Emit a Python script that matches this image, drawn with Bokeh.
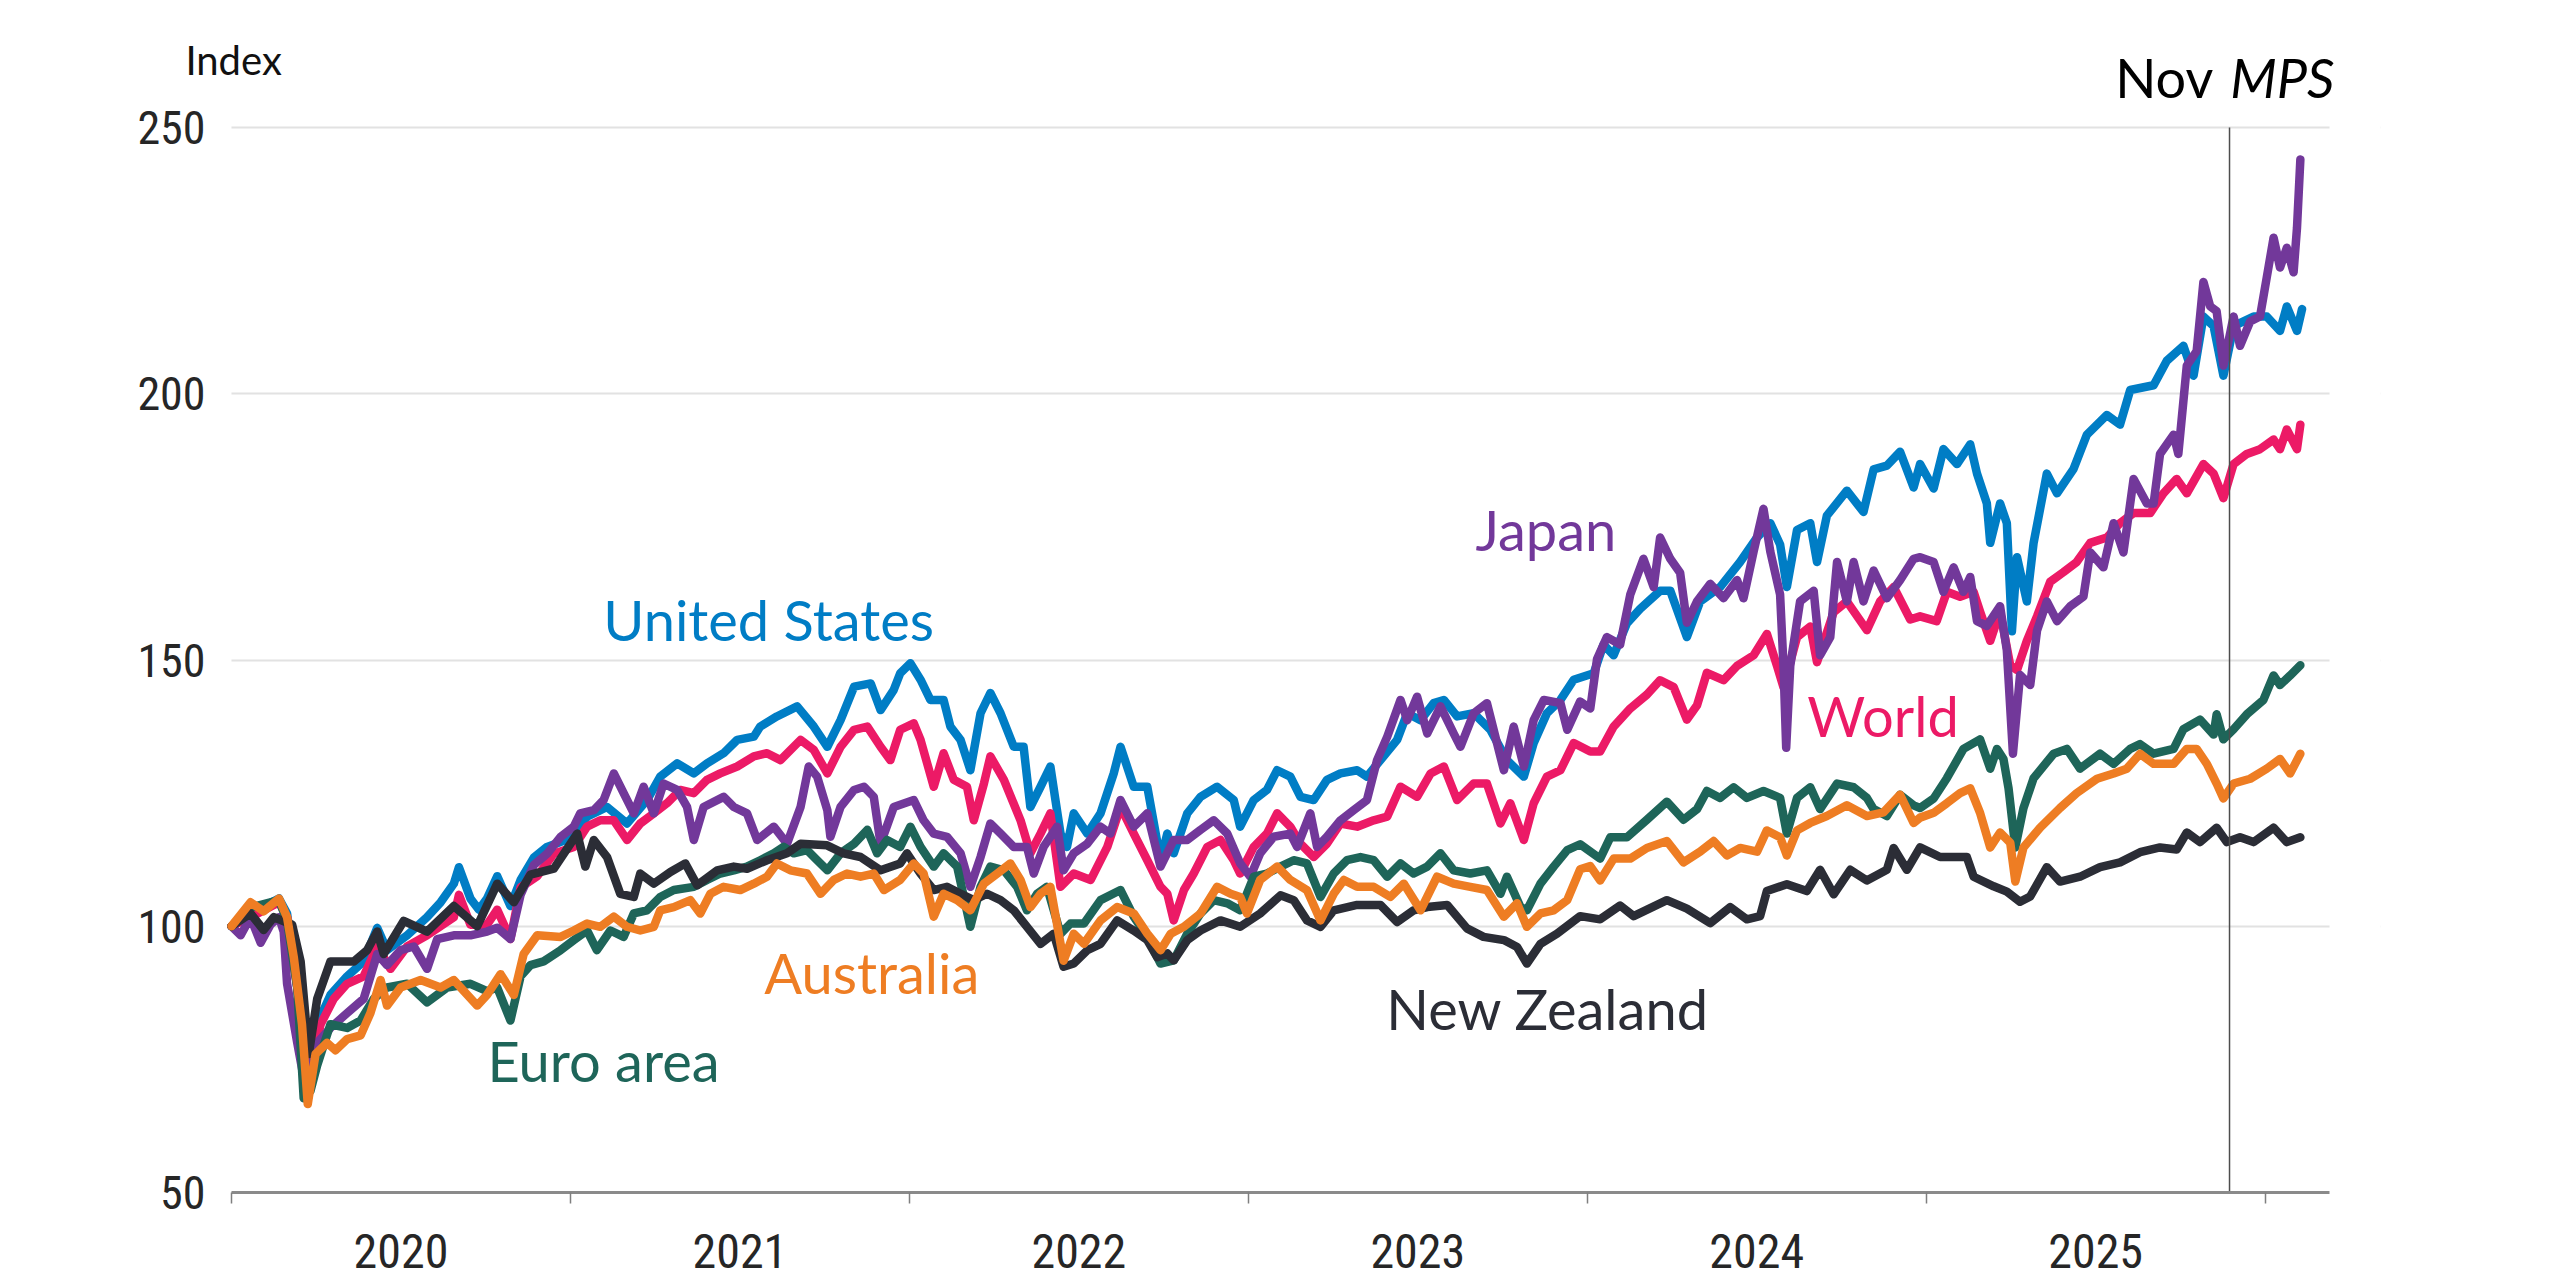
from bokeh.plotting import figure
from bokeh.models import Range1d, FixedTicker, Label, PrintfTickFormatter, BoxAnnotation
from bokeh.embed import file_html
from bokeh.resources import INLINE

# ---------------- data (decimal year, index value; Jan 2020 = 100) ----------------
united_states = [
    (2020.000, 100.0), (2020.056, 102.4), (2020.140, 105.2), (2020.164, 102.4), (2020.194, 88.5),
    (2020.223, 73.0), (2020.253, 81.6), (2020.292, 87.1), (2020.341, 90.6), (2020.390, 93.4),
    (2020.430, 99.7), (2020.459, 95.5), (2020.518, 98.3), (2020.577, 101.7), (2020.617, 104.5),
    (2020.656, 108.0), (2020.671, 111.1), (2020.705, 105.2), (2020.730, 103.1), (2020.754, 105.2),
    (2020.784, 109.4), (2020.823, 103.8), (2020.853, 108.7), (2020.892, 112.9), (2020.931, 114.9),
    (2020.961, 115.6), (2021.010, 116.8), (2021.049, 120.6), (2021.108, 122.4), (2021.167, 119.3),
    (2021.226, 123.7), (2021.265, 128.1), (2021.315, 130.6), (2021.364, 128.7), (2021.403, 130.6),
    (2021.452, 132.5), (2021.492, 135.0), (2021.541, 135.6), (2021.560, 137.5), (2021.609, 139.4),
    (2021.669, 141.3), (2021.718, 137.5), (2021.758, 133.7), (2021.797, 138.7), (2021.837, 145.0),
    (2021.886, 145.6), (2021.915, 140.6), (2021.954, 144.4), (2021.973, 147.5), (2022.003, 149.4),
    (2022.033, 146.3), (2022.062, 142.5), (2022.101, 142.5), (2022.121, 137.5), (2022.151, 135.0),
    (2022.180, 129.3), (2022.210, 140.0), (2022.239, 143.8), (2022.269, 140.0), (2022.308, 133.7),
    (2022.337, 133.7), (2022.357, 122.4), (2022.387, 126.2), (2022.416, 130.0), (2022.446, 117.4),
    (2022.465, 114.9), (2022.485, 121.2), (2022.525, 117.4), (2022.564, 121.2), (2022.603, 128.7),
    (2022.623, 133.7), (2022.662, 126.2), (2022.702, 126.2), (2022.741, 112.4), (2022.761, 117.4),
    (2022.780, 113.7), (2022.820, 121.2), (2022.859, 124.3), (2022.908, 126.2), (2022.957, 123.7),
    (2022.976, 118.7), (2023.016, 123.7), (2023.055, 125.6), (2023.085, 129.3), (2023.124, 128.1),
    (2023.154, 124.3), (2023.193, 123.7), (2023.232, 127.5), (2023.272, 128.7), (2023.321, 129.3),
    (2023.350, 128.1), (2023.390, 131.2), (2023.439, 135.0), (2023.469, 140.0), (2023.508, 138.7),
    (2023.547, 141.9), (2023.577, 142.5), (2023.616, 139.4), (2023.665, 140.0), (2023.714, 136.9),
    (2023.763, 131.2), (2023.813, 128.1), (2023.842, 134.4), (2023.881, 140.0), (2023.921, 142.5),
    (2023.960, 146.3), (2024.019, 147.5), (2024.048, 152.9), (2024.078, 150.9), (2024.117, 156.9),
    (2024.156, 159.6), (2024.215, 163.0), (2024.245, 163.0), (2024.294, 154.3), (2024.333, 161.0),
    (2024.392, 163.7), (2024.451, 168.4), (2024.501, 173.0), (2024.540, 175.7), (2024.569, 171.7),
    (2024.589, 163.7), (2024.619, 174.4), (2024.658, 175.7), (2024.678, 168.4), (2024.707, 177.1),
    (2024.766, 181.8), (2024.815, 177.8), (2024.845, 185.8), (2024.884, 186.5), (2024.923, 189.1),
    (2024.963, 182.4), (2024.982, 186.8), (2025.022, 182.2), (2025.051, 189.6), (2025.091, 186.8),
    (2025.130, 190.5), (2025.150, 185.0), (2025.179, 179.4), (2025.189, 172.0), (2025.218, 179.4),
    (2025.238, 175.7), (2025.253, 155.4), (2025.268, 169.3), (2025.297, 161.0), (2025.317, 172.0),
    (2025.356, 185.0), (2025.386, 181.3), (2025.435, 185.9), (2025.474, 192.3), (2025.533, 196.0),
    (2025.572, 194.2), (2025.602, 200.7), (2025.671, 201.6), (2025.710, 206.2), (2025.759, 209.0),
    (2025.789, 203.4), (2025.818, 214.5), (2025.848, 212.7), (2025.877, 203.4), (2025.907, 212.7),
    (2025.966, 214.5), (2026.005, 214.5), (2026.044, 211.8), (2026.064, 216.4), (2026.094, 211.8),
    (2026.109, 215.9),
]

world = [
    (2020.000, 100.0), (2020.056, 101.7), (2020.140, 104.5), (2020.164, 101.7), (2020.194, 88.5),
    (2020.225, 71.0), (2020.263, 81.6), (2020.302, 86.4), (2020.341, 89.2), (2020.390, 90.6),
    (2020.430, 96.2), (2020.469, 92.0), (2020.518, 96.2), (2020.577, 98.3), (2020.656, 101.7),
    (2020.671, 105.9), (2020.705, 100.3), (2020.754, 100.3), (2020.784, 103.1), (2020.823, 97.6),
    (2020.853, 107.3), (2020.902, 109.4), (2020.951, 113.6), (2021.010, 114.9), (2021.049, 118.7),
    (2021.088, 119.9), (2021.128, 119.9), (2021.167, 116.2), (2021.206, 119.3), (2021.246, 121.2),
    (2021.285, 123.1), (2021.324, 125.6), (2021.364, 125.0), (2021.403, 127.5), (2021.442, 128.7),
    (2021.492, 130.0), (2021.541, 131.9), (2021.580, 132.5), (2021.620, 131.2), (2021.679, 135.0),
    (2021.718, 133.1), (2021.758, 128.7), (2021.797, 133.7), (2021.837, 136.9), (2021.876, 137.5),
    (2021.915, 133.7), (2021.944, 131.2), (2021.973, 136.9), (2022.013, 138.1), (2022.033, 135.0),
    (2022.072, 126.2), (2022.101, 132.5), (2022.131, 127.5), (2022.170, 126.2), (2022.190, 119.9),
    (2022.220, 126.8), (2022.239, 131.9), (2022.279, 127.5), (2022.328, 119.9), (2022.357, 113.7),
    (2022.387, 117.4), (2022.416, 121.2), (2022.446, 107.4), (2022.485, 109.9), (2022.535, 108.7),
    (2022.584, 114.9), (2022.623, 122.4), (2022.662, 117.4), (2022.702, 112.4), (2022.741, 107.4),
    (2022.761, 106.1), (2022.780, 101.1), (2022.810, 106.8), (2022.839, 109.9), (2022.879, 114.9),
    (2022.918, 116.2), (2022.957, 112.4), (2022.976, 109.9), (2023.016, 114.9), (2023.055, 117.4),
    (2023.085, 121.2), (2023.124, 118.7), (2023.154, 115.5), (2023.193, 113.0), (2023.232, 115.5),
    (2023.272, 119.3), (2023.321, 118.7), (2023.370, 119.9), (2023.410, 120.6), (2023.449, 126.2),
    (2023.498, 124.3), (2023.538, 128.7), (2023.577, 130.0), (2023.616, 123.7), (2023.665, 126.8),
    (2023.704, 126.8), (2023.744, 119.3), (2023.773, 123.1), (2023.813, 116.2), (2023.842, 123.1),
    (2023.881, 128.1), (2023.921, 129.3), (2023.960, 134.4), (2024.009, 132.8), (2024.038, 132.8),
    (2024.078, 137.5), (2024.127, 140.9), (2024.176, 143.5), (2024.215, 146.2), (2024.255, 144.9),
    (2024.294, 138.8), (2024.324, 141.5), (2024.353, 147.6), (2024.402, 146.2), (2024.442, 148.9),
    (2024.491, 150.9), (2024.530, 154.9), (2024.560, 148.9), (2024.579, 144.9), (2024.619, 154.3),
    (2024.658, 156.3), (2024.678, 149.6), (2024.727, 159.0), (2024.766, 161.0), (2024.825, 155.6),
    (2024.864, 161.0), (2024.904, 163.7), (2024.953, 157.6), (2024.982, 158.2), (2025.031, 157.3),
    (2025.061, 162.8), (2025.100, 161.9), (2025.140, 162.8), (2025.159, 159.1), (2025.189, 153.6),
    (2025.218, 159.1), (2025.248, 149.0), (2025.268, 148.1), (2025.297, 153.6), (2025.327, 158.2),
    (2025.366, 164.7), (2025.405, 166.5), (2025.444, 168.4), (2025.484, 172.0), (2025.533, 173.0),
    (2025.572, 175.7), (2025.612, 177.6), (2025.661, 177.6), (2025.700, 181.3), (2025.739, 184.0),
    (2025.769, 181.3), (2025.818, 186.8), (2025.848, 185.0), (2025.877, 180.4), (2025.907, 186.8),
    (2025.946, 188.7), (2025.985, 189.6), (2026.025, 191.4), (2026.044, 189.6), (2026.064, 193.3),
    (2026.094, 189.6), (2026.104, 194.2),
]

japan = [
    (2020.000, 100.0), (2020.027, 98.3), (2020.056, 101.7), (2020.086, 96.9), (2020.115, 100.3),
    (2020.140, 101.7), (2020.154, 99.0), (2020.164, 89.2), (2020.194, 78.1), (2020.218, 69.8),
    (2020.253, 78.1), (2020.292, 80.9), (2020.341, 83.7), (2020.390, 86.4), (2020.430, 94.8),
    (2020.459, 92.7), (2020.499, 95.5), (2020.538, 96.2), (2020.577, 92.0), (2020.607, 97.6),
    (2020.656, 98.3), (2020.705, 98.3), (2020.754, 99.0), (2020.784, 99.7), (2020.823, 97.6),
    (2020.853, 105.9), (2020.892, 111.5), (2020.931, 113.6), (2020.971, 116.8), (2021.010, 118.7),
    (2021.029, 121.2), (2021.069, 121.8), (2021.098, 123.7), (2021.128, 128.7), (2021.157, 125.0),
    (2021.187, 121.2), (2021.216, 126.2), (2021.246, 121.2), (2021.275, 126.8), (2021.315, 125.6),
    (2021.344, 122.4), (2021.364, 116.2), (2021.393, 122.4), (2021.452, 124.3), (2021.482, 122.4),
    (2021.521, 121.2), (2021.551, 116.2), (2021.600, 118.7), (2021.639, 115.5), (2021.679, 122.4),
    (2021.703, 130.0), (2021.728, 128.1), (2021.758, 121.8), (2021.767, 116.8), (2021.797, 122.4),
    (2021.837, 125.6), (2021.866, 126.2), (2021.895, 124.3), (2021.915, 115.5), (2021.954, 122.4),
    (2022.013, 123.7), (2022.042, 119.9), (2022.072, 117.4), (2022.111, 116.8), (2022.151, 113.7),
    (2022.180, 107.4), (2022.210, 113.0), (2022.239, 119.3), (2022.269, 117.4), (2022.308, 114.9),
    (2022.347, 114.9), (2022.367, 109.9), (2022.396, 114.9), (2022.436, 118.7), (2022.455, 110.5),
    (2022.485, 113.7), (2022.525, 115.5), (2022.564, 118.7), (2022.593, 117.4), (2022.623, 123.7),
    (2022.662, 118.7), (2022.702, 121.2), (2022.741, 111.2), (2022.780, 116.2), (2022.820, 116.2),
    (2022.859, 118.1), (2022.898, 119.9), (2022.938, 117.4), (2022.976, 111.8), (2023.006, 109.3),
    (2023.035, 113.7), (2023.075, 116.8), (2023.124, 117.4), (2023.144, 114.9), (2023.183, 121.2),
    (2023.203, 114.9), (2023.232, 116.8), (2023.272, 119.9), (2023.311, 121.8), (2023.350, 123.7),
    (2023.380, 131.2), (2023.410, 135.6), (2023.449, 142.5), (2023.469, 138.7), (2023.498, 143.1),
    (2023.528, 136.2), (2023.567, 141.3), (2023.606, 136.2), (2023.626, 133.7), (2023.665, 140.0),
    (2023.704, 141.9), (2023.754, 129.3), (2023.783, 137.5), (2023.813, 130.0), (2023.842, 138.7),
    (2023.872, 142.5), (2023.921, 141.9), (2023.941, 136.9), (2023.979, 142.2), (2024.009, 140.9),
    (2024.029, 150.2), (2024.058, 154.3), (2024.097, 152.9), (2024.127, 162.3), (2024.166, 169.0),
    (2024.196, 163.7), (2024.215, 173.0), (2024.245, 169.0), (2024.274, 166.4), (2024.294, 157.0),
    (2024.324, 161.0), (2024.363, 164.3), (2024.402, 161.6), (2024.442, 165.0), (2024.461, 161.6),
    (2024.491, 170.4), (2024.520, 178.4), (2024.540, 170.4), (2024.569, 162.3), (2024.579, 148.9),
    (2024.587, 133.5), (2024.599, 148.9), (2024.628, 161.0), (2024.668, 163.0), (2024.687, 150.9),
    (2024.717, 154.3), (2024.737, 168.4), (2024.766, 161.0), (2024.786, 168.4), (2024.815, 161.0),
    (2024.845, 166.8), (2024.884, 161.6), (2024.923, 165.0), (2024.963, 169.0), (2024.982, 169.3),
    (2025.022, 168.4), (2025.051, 162.8), (2025.081, 167.4), (2025.110, 162.8), (2025.130, 165.6),
    (2025.150, 157.3), (2025.179, 156.4), (2025.218, 160.1), (2025.238, 151.8), (2025.256, 132.4),
    (2025.277, 147.2), (2025.307, 145.3), (2025.327, 155.5), (2025.356, 161.0), (2025.386, 157.3),
    (2025.425, 160.1), (2025.464, 161.9), (2025.484, 170.2), (2025.523, 167.4), (2025.553, 175.7),
    (2025.582, 170.2), (2025.612, 184.0), (2025.651, 179.4), (2025.671, 179.4), (2025.690, 188.7),
    (2025.730, 192.3), (2025.744, 188.7), (2025.769, 205.3), (2025.798, 208.0), (2025.818, 221.0),
    (2025.838, 216.4), (2025.857, 215.5), (2025.877, 205.3), (2025.907, 214.5), (2025.926, 209.0),
    (2025.956, 213.6), (2025.985, 214.5), (2026.005, 221.9), (2026.025, 229.3), (2026.044, 223.7),
    (2026.064, 227.4), (2026.084, 222.8), (2026.094, 231.1), (2026.104, 244.0),
]

euro_area = [
    (2020.000, 100.0), (2020.056, 103.5), (2020.140, 104.9), (2020.164, 101.0), (2020.194, 88.5),
    (2020.213, 67.7), (2020.233, 69.1), (2020.253, 73.9), (2020.292, 81.6), (2020.341, 80.9),
    (2020.381, 82.3), (2020.420, 86.4), (2020.459, 88.5), (2020.518, 89.2), (2020.577, 85.7),
    (2020.636, 88.5), (2020.705, 89.2), (2020.754, 87.8), (2020.784, 88.5), (2020.823, 82.3),
    (2020.853, 90.6), (2020.882, 92.7), (2020.921, 93.4), (2020.971, 95.5), (2021.010, 97.4),
    (2021.049, 99.2), (2021.078, 95.5), (2021.118, 99.2), (2021.157, 98.0), (2021.187, 102.4),
    (2021.226, 103.0), (2021.265, 105.5), (2021.305, 106.8), (2021.364, 107.4), (2021.403, 108.7),
    (2021.442, 109.9), (2021.482, 110.5), (2021.521, 111.2), (2021.560, 112.4), (2021.600, 113.7),
    (2021.629, 114.9), (2021.659, 113.7), (2021.698, 114.3), (2021.728, 112.4), (2021.758, 110.5),
    (2021.797, 113.7), (2021.837, 115.5), (2021.876, 118.1), (2021.905, 113.7), (2021.934, 116.2),
    (2021.973, 114.9), (2022.003, 118.7), (2022.033, 114.9), (2022.072, 111.2), (2022.101, 113.7),
    (2022.141, 111.2), (2022.180, 99.9), (2022.210, 107.4), (2022.239, 111.2), (2022.279, 110.5),
    (2022.318, 107.4), (2022.347, 103.0), (2022.377, 106.1), (2022.406, 107.4), (2022.446, 98.6),
    (2022.475, 100.5), (2022.515, 100.5), (2022.564, 104.9), (2022.623, 106.8), (2022.662, 101.8),
    (2022.702, 98.0), (2022.741, 93.0), (2022.780, 93.6), (2022.820, 98.6), (2022.859, 102.4),
    (2022.898, 104.9), (2022.938, 104.3), (2022.976, 103.0), (2023.016, 109.3), (2023.055, 109.9),
    (2023.095, 111.2), (2023.134, 112.4), (2023.173, 111.8), (2023.213, 105.5), (2023.252, 109.9),
    (2023.291, 112.4), (2023.331, 113.0), (2023.370, 112.4), (2023.410, 109.3), (2023.449, 111.8),
    (2023.488, 109.9), (2023.528, 111.2), (2023.567, 113.7), (2023.606, 110.5), (2023.655, 109.9),
    (2023.704, 110.5), (2023.744, 106.1), (2023.763, 109.3), (2023.803, 103.6), (2023.822, 103.0),
    (2023.862, 108.0), (2023.901, 111.2), (2023.941, 114.3), (2023.979, 115.4), (2024.038, 112.7),
    (2024.068, 116.7), (2024.117, 116.7), (2024.176, 120.0), (2024.235, 123.4), (2024.284, 120.0),
    (2024.324, 122.0), (2024.353, 125.4), (2024.392, 124.1), (2024.432, 126.1), (2024.471, 124.1),
    (2024.520, 125.4), (2024.569, 124.1), (2024.589, 117.4), (2024.619, 124.1), (2024.658, 126.1),
    (2024.687, 122.0), (2024.737, 126.8), (2024.786, 126.1), (2024.825, 124.1), (2024.845, 122.0),
    (2024.884, 120.7), (2024.923, 124.7), (2024.963, 122.7), (2024.982, 122.2), (2025.022, 124.0),
    (2025.061, 127.8), (2025.110, 133.3), (2025.159, 135.1), (2025.189, 129.6), (2025.209, 133.3),
    (2025.228, 131.4), (2025.243, 125.9), (2025.263, 114.8), (2025.287, 122.2), (2025.317, 127.8),
    (2025.376, 132.4), (2025.415, 133.3), (2025.454, 129.6), (2025.513, 132.4), (2025.553, 130.5),
    (2025.602, 133.3), (2025.631, 134.2), (2025.671, 132.4), (2025.730, 133.3), (2025.759, 137.0),
    (2025.808, 138.8), (2025.848, 136.0), (2025.857, 139.8), (2025.877, 135.1), (2025.907, 137.0),
    (2025.946, 139.8), (2025.995, 142.5), (2026.025, 147.1), (2026.044, 145.3), (2026.074, 147.1),
    (2026.104, 149.0),
]

australia = [
    (2020.000, 100.0), (2020.056, 104.5), (2020.095, 102.8), (2020.140, 105.2), (2020.164, 101.7),
    (2020.184, 94.1), (2020.208, 81.6), (2020.225, 66.6), (2020.248, 76.0), (2020.282, 78.1),
    (2020.307, 76.7), (2020.341, 78.8), (2020.381, 79.5), (2020.410, 83.7), (2020.440, 89.9),
    (2020.459, 85.1), (2020.499, 88.5), (2020.558, 89.9), (2020.617, 88.5), (2020.656, 89.9),
    (2020.725, 85.1), (2020.754, 87.1), (2020.794, 91.0), (2020.833, 87.1), (2020.862, 94.8),
    (2020.902, 98.3), (2020.971, 98.0), (2021.010, 99.2), (2021.049, 100.5), (2021.088, 99.9),
    (2021.128, 101.8), (2021.167, 99.9), (2021.206, 99.2), (2021.246, 99.9), (2021.265, 103.0),
    (2021.305, 103.6), (2021.354, 104.9), (2021.383, 102.4), (2021.413, 106.1), (2021.452, 107.4),
    (2021.501, 106.8), (2021.541, 108.0), (2021.580, 109.3), (2021.609, 111.8), (2021.649, 110.5),
    (2021.698, 109.9), (2021.738, 106.1), (2021.777, 108.7), (2021.816, 109.9), (2021.856, 109.3),
    (2021.895, 109.9), (2021.925, 106.8), (2021.973, 108.7), (2022.013, 111.8), (2022.042, 109.9),
    (2022.072, 101.8), (2022.101, 106.1), (2022.141, 104.9), (2022.180, 103.0), (2022.220, 108.0),
    (2022.259, 109.9), (2022.298, 111.8), (2022.328, 108.7), (2022.357, 103.6), (2022.387, 106.1),
    (2022.416, 107.4), (2022.455, 93.5), (2022.485, 98.6), (2022.515, 96.7), (2022.564, 101.1),
    (2022.613, 103.6), (2022.662, 102.4), (2022.702, 98.6), (2022.741, 95.5), (2022.771, 98.6),
    (2022.810, 99.9), (2022.859, 102.4), (2022.908, 107.4), (2022.948, 106.1), (2022.976, 105.5),
    (2022.996, 102.4), (2023.035, 108.7), (2023.085, 111.2), (2023.124, 108.7), (2023.173, 106.8),
    (2023.213, 101.1), (2023.252, 106.1), (2023.282, 108.7), (2023.321, 107.4), (2023.370, 107.4),
    (2023.419, 105.5), (2023.459, 108.0), (2023.508, 103.0), (2023.557, 109.3), (2023.606, 108.0),
    (2023.655, 107.4), (2023.704, 106.8), (2023.754, 101.8), (2023.793, 104.3), (2023.822, 99.9),
    (2023.862, 102.4), (2023.901, 103.0), (2023.941, 104.9), (2023.979, 110.7), (2024.009, 111.3),
    (2024.038, 108.6), (2024.078, 112.7), (2024.127, 112.7), (2024.176, 114.7), (2024.235, 116.0),
    (2024.284, 112.0), (2024.333, 114.0), (2024.373, 116.0), (2024.412, 113.3), (2024.451, 114.7),
    (2024.501, 114.0), (2024.530, 118.0), (2024.569, 116.7), (2024.589, 113.3), (2024.619, 118.0),
    (2024.658, 119.4), (2024.707, 120.7), (2024.766, 122.7), (2024.825, 120.7), (2024.874, 121.4),
    (2024.923, 124.7), (2024.963, 119.4), (2024.982, 120.4), (2025.022, 121.3), (2025.061, 123.1),
    (2025.100, 125.0), (2025.130, 125.9), (2025.159, 121.3), (2025.189, 114.8), (2025.218, 117.6),
    (2025.248, 115.7), (2025.263, 108.4), (2025.287, 114.8), (2025.336, 118.5), (2025.395, 122.2),
    (2025.444, 125.0), (2025.504, 127.7), (2025.553, 128.7), (2025.592, 129.6), (2025.631, 132.4),
    (2025.671, 130.5), (2025.730, 130.5), (2025.769, 133.3), (2025.798, 133.3), (2025.828, 130.5),
    (2025.857, 126.8), (2025.877, 124.0), (2025.907, 126.8), (2025.956, 127.7), (2026.005, 129.6),
    (2026.044, 131.4), (2026.074, 128.7), (2026.104, 132.4),
]

new_zealand = [
    (2020.000, 100.0), (2020.056, 102.4), (2020.095, 99.3), (2020.125, 101.7), (2020.179, 100.3),
    (2020.204, 93.4), (2020.228, 76.0), (2020.253, 86.4), (2020.292, 93.4), (2020.361, 93.4),
    (2020.400, 95.5), (2020.430, 99.0), (2020.449, 94.8), (2020.508, 101.0), (2020.577, 99.0),
    (2020.656, 103.8), (2020.725, 100.0), (2020.784, 108.0), (2020.833, 104.5), (2020.882, 109.7),
    (2020.951, 110.8), (2021.020, 117.4), (2021.044, 111.2), (2021.069, 116.2), (2021.108, 113.0),
    (2021.147, 106.1), (2021.187, 105.5), (2021.206, 109.9), (2021.246, 108.0), (2021.295, 110.2),
    (2021.339, 111.8), (2021.374, 107.7), (2021.433, 110.5), (2021.482, 111.2), (2021.521, 110.8),
    (2021.580, 112.4), (2021.639, 113.7), (2021.679, 115.5), (2021.757, 115.2), (2021.806, 113.7),
    (2021.856, 113.0), (2021.915, 110.5), (2021.973, 111.8), (2021.993, 113.7), (2022.033, 109.9),
    (2022.072, 106.8), (2022.111, 107.4), (2022.151, 106.1), (2022.190, 104.9), (2022.229, 106.1),
    (2022.269, 104.9), (2022.308, 103.0), (2022.347, 99.9), (2022.387, 96.7), (2022.426, 98.6),
    (2022.455, 92.4), (2022.485, 93.0), (2022.525, 95.5), (2022.564, 96.7), (2022.613, 101.1),
    (2022.662, 99.2), (2022.702, 97.4), (2022.731, 94.2), (2022.761, 94.9), (2022.780, 93.6),
    (2022.820, 97.4), (2022.859, 99.2), (2022.918, 101.1), (2022.976, 99.9), (2023.035, 102.4),
    (2023.095, 105.8), (2023.134, 104.9), (2023.173, 101.1), (2023.213, 99.9), (2023.252, 103.0),
    (2023.321, 104.0), (2023.390, 104.0), (2023.439, 100.8), (2023.488, 103.0), (2023.528, 103.6),
    (2023.587, 104.0), (2023.645, 99.6), (2023.694, 98.0), (2023.754, 97.4), (2023.793, 96.1),
    (2023.822, 93.0), (2023.862, 96.7), (2023.911, 98.6), (2023.979, 101.9), (2024.038, 101.3),
    (2024.097, 103.9), (2024.137, 101.9), (2024.235, 104.9), (2024.294, 103.3), (2024.363, 100.6),
    (2024.422, 103.6), (2024.471, 101.3), (2024.510, 101.9), (2024.530, 106.6), (2024.589, 107.9),
    (2024.648, 106.6), (2024.687, 110.6), (2024.727, 106.0), (2024.776, 110.6), (2024.825, 108.6),
    (2024.884, 110.6), (2024.904, 114.7), (2024.943, 110.6), (2024.982, 114.8), (2025.041, 113.0),
    (2025.120, 113.0), (2025.140, 109.3), (2025.199, 107.5), (2025.238, 106.5), (2025.277, 104.6),
    (2025.307, 105.6), (2025.356, 111.1), (2025.395, 108.4), (2025.454, 109.3), (2025.513, 111.1),
    (2025.572, 112.0), (2025.631, 113.9), (2025.690, 114.8), (2025.739, 114.4), (2025.769, 117.6),
    (2025.808, 115.8), (2025.857, 118.5), (2025.887, 115.8), (2025.926, 116.7), (2025.966, 115.8),
    (2026.025, 118.5), (2026.064, 115.8), (2026.104, 116.7),
]

year_tick_positions = [2020.5, 2021.5, 2022.5, 2023.5, 2024.5, 2025.5]
year_labels = ["2020", "2021", "2022", "2023", "2024", "2025"]
year_boundaries = [2020, 2021, 2022, 2023, 2024, 2025, 2026]
y_ticks = [50, 100, 150, 200, 250]
mps_date = 2025.895
axis_end = 2026.19

# ---------------- styling ----------------
LABEL_FONT = "Lato"
TICK_FONT = "Liberation Sans Narrow, Roboto Condensed, Roboto"
TXT_SHIFT = 4.0  # baseline correction in data units

series = [
    ("United States", united_states, "#007DC5"),
    ("World", world, "#EC1A66"),
    ("Japan", japan, "#72389A"),
    ("Euro area", euro_area, "#1E6559"),
    ("New Zealand", new_zealand, "#2B2D36"),
    ("Australia", australia, "#EE7D23"),
]

# frame: left edge at 180 px (2020.0 sits at 231 px), right edge at 2380 px (axis ends at 2329 px),
# top at 20 px, value 50 at 1192 px
x_start = year_boundaries[0] - 51 / 339.0
x_end = axis_end + 51 / 339.0
y_top = 50 + (1192 - 20) / 5.325

p = figure(width=2560, height=1280,
           x_range=Range1d(x_start, x_end), y_range=Range1d(50, y_top),
           output_backend="svg", toolbar_location=None,
           min_border_left=180, min_border_right=180,
           min_border_top=20, min_border_bottom=88,
           background_fill_color="white", border_fill_color="white")
p.outline_line_color = None

# grid
p.xgrid.grid_line_color = None
p.ygrid.ticker = FixedTicker(ticks=y_ticks)
p.ygrid.grid_line_color = "#e2e2e2"
p.ygrid.grid_line_width = 2

# white masks outside the data span, so grid lines run only from the first year to the axis end
p.add_layout(BoxAnnotation(right=year_boundaries[0], fill_color="white", fill_alpha=1.0,
                           line_color=None, level="underlay"))
p.add_layout(BoxAnnotation(left=axis_end, fill_color="white", fill_alpha=1.0,
                           line_color=None, level="underlay"))

# x axis: labels at mid-year, ticks at year boundaries
xa = p.xaxis[0]
xa.bounds = (year_boundaries[0], axis_end)
xa.ticker = FixedTicker(ticks=year_tick_positions, minor_ticks=year_boundaries)
xa.formatter = PrintfTickFormatter(format="%d")
xa.major_label_overrides = dict(zip(year_tick_positions, year_labels))
xa.major_tick_line_color = None
xa.major_tick_out = 0
xa.major_tick_in = 0
xa.minor_tick_line_color = "#7f7f7f"
xa.minor_tick_line_width = 1.5
xa.minor_tick_out = 11
xa.minor_tick_in = 0
xa.axis_line_color = "#8a8a8a"
xa.axis_line_width = 3
xa.major_label_text_font = TICK_FONT
xa.major_label_text_font_size = "48px"
xa.major_label_text_color = "#262626"
xa.major_label_standoff = 30

# y axis
ya = p.yaxis[0]
ya.ticker = FixedTicker(ticks=y_ticks)
ya.axis_line_color = None
ya.major_tick_line_color = None
ya.minor_tick_line_color = None
ya.major_tick_out = 0
ya.major_tick_in = 0
ya.minor_tick_out = 0
ya.major_label_standoff = -25
ya.major_label_text_font = TICK_FONT
ya.major_label_text_font_size = "46px"
ya.major_label_text_color = "#262626"

# series
for name, data, color in series:
    xs = [d for d, v in data]
    ys = [v for d, v in data]
    p.line(xs, ys, line_width=8.5, line_color=color, line_join="round", line_cap="round")

# MPS marker line (from axis to top grid line)
p.segment(x0=[mps_date], y0=[y_ticks[0]], x1=[mps_date], y1=[y_ticks[-1]],
          line_color="#4d4d4d", line_width=1.5)

# series labels
label_spec = [
    ("United States", 2021.097, 153.6, "#007DC5"),
    ("Japan", 2023.670, 170.5, "#72389A"),
    ("World", 2024.649, 135.5, "#EC1A66"),
    ("Australia", 2021.572, 87.4, "#EE7D23"),
    ("Euro area", 2020.755, 70.7, "#1E6559"),
    ("New Zealand", 2023.407, 80.5, "#2B2D36"),
]
for text, lx, ly, color in label_spec:
    p.add_layout(Label(x=lx, y=ly + TXT_SHIFT, text=text, text_font=LABEL_FONT, text_font_size="56px",
                       text_color=color, text_align="left", text_baseline="alphabetic"))

# unit label and MPS label
p.add_layout(Label(x=2019.864, y=258.7 + TXT_SHIFT, text="Index", text_font=LABEL_FONT,
                   text_font_size="40px", text_color="#111111", text_align="left",
                   text_baseline="alphabetic"))
p.add_layout(Label(x=2025.847, y=255.3 + TXT_SHIFT, text="Nov", text_font=LABEL_FONT,
                   text_font_size="54px", text_color="#000000", text_align="right",
                   text_baseline="alphabetic"))
p.add_layout(Label(x=2025.897, y=255.3 + TXT_SHIFT, text="MPS", text_font=LABEL_FONT,
                   text_font_size="54px", text_font_style="italic", text_color="#000000",
                   text_align="left", text_baseline="alphabetic"))

open("out.html", "w").write(file_html(p, INLINE))
